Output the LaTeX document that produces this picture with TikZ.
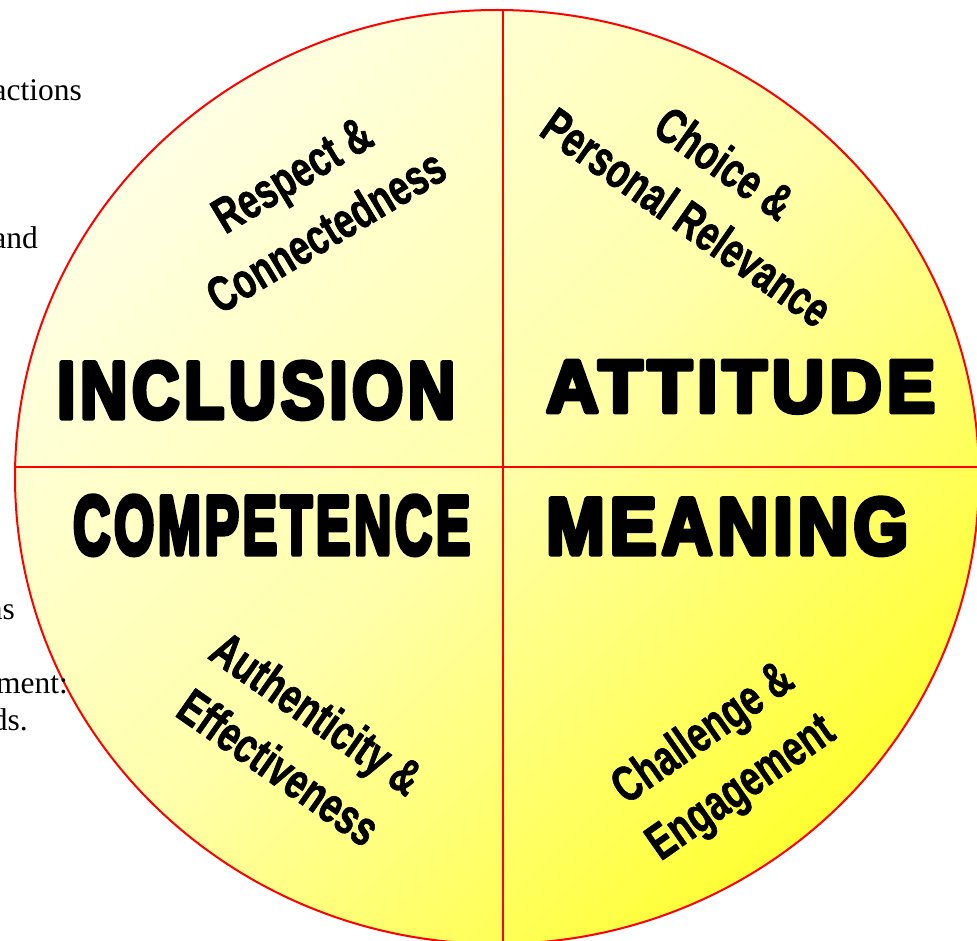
\documentclass[tikz,border=0pt]{standalone}
\usepackage{fontspec}
\setmainfont{Liberation Serif}
\newfontfamily\labelfont{Liberation Sans}[FakeBold=1.5]
\newfontfamily\heavyfont{Liberation Sans}[FakeBold=6.5, LetterSpace=7]
\usetikzlibrary{shapes.geometric}
\definecolor{rimred}{RGB}{255,0,0}
\definecolor{paleyel}{RGB}{255,255,228}
\definecolor{midyel}{RGB}{255,255,170}
\definecolor{deepyel}{RGB}{255,255,50}
\newcommand{\heavyword}[3]{\resizebox{#1pt}{#2pt}{\heavyfont\bfseries #3}}
\newcommand{\narrowline}[1]{\scalebox{0.72}[1]{#1}}
\begin{document}
\begin{tikzpicture}[x=1pt,y=1pt,
  bigword/.style={inner sep=0pt, anchor=base west, line join=round, miter limit=1},
  sublabel/.style={inner sep=0pt, align=center, line join=round, font=\labelfont\bfseries\fontsize{50}{66}\selectfont},
  sidetext/.style={inner sep=0pt, anchor=base east, font=\fontsize{31.5}{38}\selectfont},
]
\useasboundingbox (0,0) rectangle (977,-941);
\begin{scope}
\clip (0,0) rectangle (977,-941);
\shade[top color=paleyel, bottom color=deepyel, middle color=midyel, shading angle=45]
  (497,-477) ellipse [x radius=482, y radius=467];
\begin{scope}
\clip (497,-477) ellipse [x radius=482, y radius=467];
\draw[rimred, line width=1.6] (503,10) -- (503,-960);
\draw[rimred, line width=1.6] (0,-467) -- (990,-467);
\end{scope}
\draw[rimred, line width=2] (497,-477) ellipse [x radius=482, y radius=467];

\node[sidetext] (frag1) at (82,-101) {actions};
\node[sidetext] (frag2) at (38,-249) {and};
\node[sidetext] (frag3) at (15,-619) {ns};
\node[sidetext] (frag4) at (68,-693) {ment:};
\node[sidetext] (frag5) at (28,-730) {ds.};

\begin{scope}[line join=round]
\node[bigword] (inclusion) at (57,-418) {\heavyword{398}{56}{INCLUSION}};
\node[bigword] (attitude) at (546,-412) {\heavyword{389}{51}{ATTITUDE}};
\node[bigword] (competence) at (73,-554) {\heavyword{397}{58}{COMPETENCE}};
\node[bigword] (meaning) at (546,-554) {\heavyword{362}{56}{MEANING}};

\node[sublabel, rotate=31] (respect) at (309,-203) {\narrowline{Respect \&}\\\narrowline{Connectedness}};
\node[sublabel, rotate=-35] (choice) at (706,-190) {\narrowline{Choice \&}\\\narrowline{Personal Relevance}};
\node[sublabel, rotate=-35] (authentic) at (298,-740) {\narrowline{Authenticity \&}\\\narrowline{Effectiveness}};
\node[sublabel, rotate=35] (challenge) at (723,-762) {\narrowline{Challenge \&}\\\narrowline{Engagement}};
\end{scope}
\end{scope}
\end{tikzpicture}
\end{document}
